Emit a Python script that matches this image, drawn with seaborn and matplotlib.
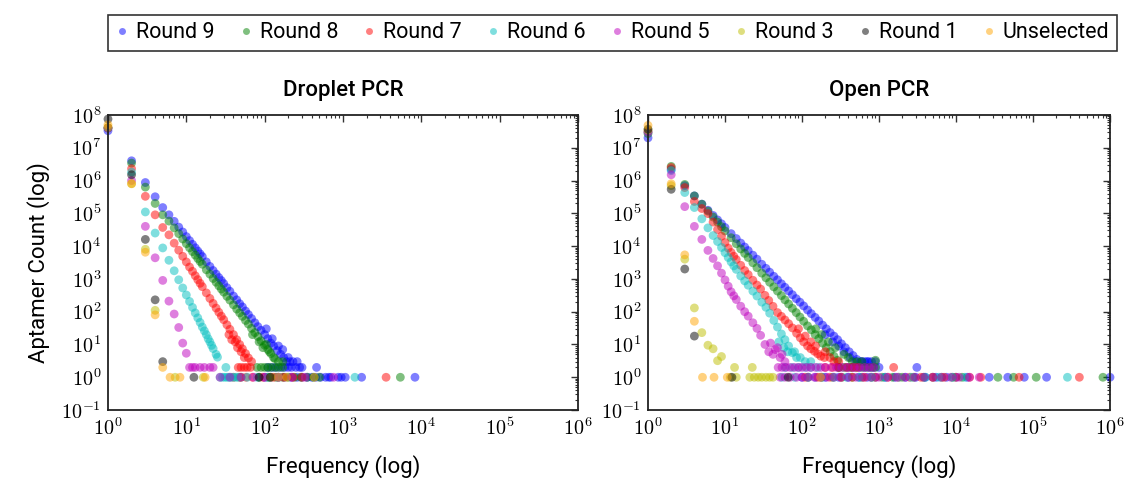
"""Aptamer frequency distributions per selection round, droplet vs open PCR."""
import matplotlib
matplotlib.use('Agg')
import matplotlib.pyplot as plt
import matplotlib.ticker as mticker
from matplotlib.lines import Line2D
import numpy as np
import pandas as pd
import seaborn as sns

rounds = ['Round 9', 'Round 8', 'Round 7', 'Round 6', 'Round 5', 'Round 3', 'Round 1', 'Unselected']
colors = ['blue', 'green', 'red', 'c', 'm', 'y', 'k', 'orange']
titles = ['Droplet PCR', 'Open PCR']

# ---- Droplet PCR: frequency -> aptamer count (twos/ones = frequencies seen with count 2 / 1)
drop_r9_freq = [1, 2, 3, 4, 5, 6, 7, 8, 9, 10, 11, 12, 13, 14, 15, 16, 18, 20, 22, 24, 26, 28, 30,
                33, 36, 40, 44, 48, 52, 57, 62, 68, 75, 82, 90, 100,
                105, 110, 120, 125, 130, 145, 150, 160, 170, 175, 190, 200, 210, 230, 260]
drop_r9_count = [3.3e7, 4e6, 8.7e5, 3.2e5, 1.5e5, 9e4, 5.7e4, 3.8e4, 2.7e4, 1.95e4, 1.47e4, 1.13e4, 8.9e3, 7.1e3, 5.8e3, 4.8e3,
                 3.3e3, 2.4e3, 1.8e3, 1.4e3, 1.1e3, 890, 720,
                 540, 420, 300, 230, 175, 140, 105, 82, 62, 46, 35, 27, 20,
                 30, 15, 11, 15, 9, 6.5, 9, 5, 7, 4, 3, 4, 3, 3, 3]
drop_r9_twos = [110, 125, 140, 160, 180, 200, 220, 250, 280, 300, 460]
drop_r9_ones = [100, 120, 150, 180, 220, 260, 300, 350, 400, 450, 520, 600, 660, 700, 870, 950, 1070, 1730, 8300]

drop_r8_freq = [1, 2, 3, 4, 5, 6, 7, 8, 9, 10, 11, 12, 13, 14, 15, 16, 18, 20, 22, 24, 26, 28, 30,
                33, 36, 40, 44, 48, 52, 57, 62, 68, 75, 82, 90, 100, 110, 120, 135,
                70, 85, 95, 105, 115, 130, 150, 170]
drop_r8_count = [4e7, 3.4e6, 6.3e5, 2e5, 9e4, 5.8e4, 3.6e4, 2.4e4, 1.65e4, 1.19e4, 8.9e3, 6.8e3, 5.3e3, 4.2e3, 3.4e3, 2.8e3,
                 1.9e3, 1.4e3, 1.03e3, 790, 615, 490, 395,
                 294, 225, 162, 120, 92, 72, 54, 42, 31, 23, 17.5, 13, 9.5, 7, 5.3, 3.7,
                 20, 12, 8, 10, 6, 4, 3, 3]
drop_r8_twos = [80, 90, 100, 110, 120, 135, 150, 170]
drop_r8_ones = [50, 85, 110, 140, 170, 200, 240, 290, 350, 420, 500, 5400]

drop_r7_freq = [1, 2, 3, 4, 5, 6, 7, 8, 9, 10, 11, 12, 13, 14, 15, 16, 18, 20, 22, 24, 26, 28, 30,
                33, 36, 40, 44, 48, 52, 57, 62, 68, 35, 38, 42, 45, 50, 55]
drop_r7_count = [4e7, 2.3e6, 3.3e5, 9e4, 3.7e4, 2.2e4, 1.23e4, 7.5e3, 4.9e3, 3.3e3, 2.3e3, 1.7e3, 1.25e3, 950, 735, 580,
                 375, 254, 179, 129, 96, 73, 57,
                 40, 29, 20, 14, 10, 7.4, 5.3, 3.9, 3, 20, 14, 12, 8, 6, 4]
drop_r7_twos = [46, 50, 55, 60, 66]
drop_r7_ones = [40, 48, 58, 70, 95, 130, 175, 230, 300, 3550]

drop_r6_freq = [1, 2, 3, 4, 5, 6, 7, 8, 9, 10, 11, 12, 13, 14, 15, 16, 17, 18, 19, 20, 21, 22, 24, 25]
drop_r6_count = [4e7, 1.8e6, 1.1e5, 2.5e4, 8.8e3, 3.7e3, 1.77e3, 940, 530, 323, 205, 135, 92, 65, 47, 34,
                 26, 20, 15, 12, 9.4, 7.5, 5, 4.1]
drop_r6_twos = [32]
drop_r6_ones = [27, 29, 31, 33, 35, 37, 40, 43, 46, 60, 80, 110, 150, 1420]

drop_r5_freq = [1, 2, 3, 4, 5, 6, 7, 8, 9, 10]
drop_r5_count = [4e7, 1e6, 4e4, 4.4e3, 900, 210, 85, 33, 11, 5.4]
drop_r5_twos = [11, 12, 13, 15, 17, 20, 22]
drop_r5_ones = [27, 36, 50, 72, 100, 150, 220, 330, 760]

drop_r3_freq = [1, 2, 3, 4]
drop_r3_count = [4.2e7, 8e5, 8e3, 110]
drop_r3_twos = []
drop_r3_ones = [7.2, 16.5, 120]

drop_r1_freq = [1, 2, 3, 4, 5]
drop_r1_count = [7.5e7, 1.5e6, 1.6e4, 230, 3]
drop_r1_twos = []
drop_r1_ones = [12.5, 85, 118]

drop_un_freq = [1, 2, 3, 4, 5]
drop_un_count = [5e7, 8e5, 6.5e3, 80, 2]
drop_un_twos = []
drop_un_ones = [6.2, 8.3, 17.4, 150, 190, 430]

# ---- Open PCR
open_r9_freq = [1, 2, 3, 4, 5, 6, 7, 8, 9, 10, 12, 14, 16, 18, 20,
                23, 26, 30, 34, 38, 43, 48, 54, 60, 67, 75, 84, 94, 105, 118, 132, 148, 165, 185, 207,
                232, 260, 290, 325, 365, 410, 460, 515, 580, 650, 730,
                200, 250, 300, 350, 420, 500, 600, 700, 800, 900]
open_r9_count = [2e7, 2.2e6, 7e5, 3.4e5, 1.9e5, 1.24e5, 8.6e4, 6.3e4, 4.8e4, 3.7e4, 2.4e4, 1.7e4, 1.24e4, 9.4e3, 7.3e3,
                 5.3e3, 4e3, 2.8e3, 2.1e3, 1.6e3, 1.2e3, 940, 710, 555, 430, 330, 250, 195, 150, 113, 87, 67, 52, 39, 30,
                 23, 18, 14, 10.5, 8, 6, 4.6, 3.5, 3, 3, 3,
                 20, 12, 9, 6, 4, 3, 3, 3, 3, 3]
open_r9_twos = [300, 380, 450, 550, 650, 750, 850, 1000, 3100]
open_r9_ones = [100, 150, 200, 300, 400, 550, 700, 900, 1200, 1600, 2200, 3000, 4000, 5500, 7500, 10000, 14000,
                27000, 47000, 77000, 1.5e5, 1e6]

open_r8_freq = [1, 2, 3, 4, 5, 6, 7, 8, 9, 10, 12, 14, 16, 18, 20,
                23, 26, 30, 34, 38, 43, 48, 54, 60, 67, 75, 84, 94, 105, 118, 132, 148, 165, 185, 207, 232, 260, 290,
                150, 180, 220, 270, 350, 400, 450, 520, 600, 900]
open_r8_count = [2.7e7, 2.7e6, 7.6e5, 3.4e5, 1.9e5, 1.17e5, 7.7e4, 5.4e4, 3.9e4, 2.9e4, 1.8e4, 1.18e4, 8.2e3, 6e3, 4.5e3,
                 3.1e3, 2.2e3, 1.5e3, 1.08e3, 790, 570, 425, 310, 230, 172, 127, 94, 69, 51, 37, 28, 20, 15, 11, 8, 6, 4.4, 3.3,
                 30, 20, 12, 8, 5, 4, 3, 3, 3, 3.3]
open_r8_twos = [300, 350, 420, 500, 600, 700, 800, 900]
open_r8_ones = [120, 180, 250, 330, 450, 600, 800, 1100, 1500, 2000, 2800, 3800, 5000, 6500, 9000, 12000,
                35000, 56000, 1.1e5, 8.1e5]

open_r7_freq = [1, 2, 3, 4, 5, 6, 7, 8, 9, 10, 11, 12, 13, 14,
                16, 18, 20, 23, 26, 29, 33, 37, 42, 48, 54, 60, 67, 75, 85, 95, 105, 118, 130, 145, 160, 175, 195,
                90, 110, 130, 150, 200, 230, 260, 300]
open_r7_count = [3.1e7, 2.5e6, 6.1e5, 2.3e5, 1.4e5, 9.8e4, 5.4e4, 3.2e4, 2e4, 1.28e4, 8.7e3, 6.4e3, 4.9e3, 3.9e3,
                 2.6e3, 1.8e3, 1.35e3, 910, 650, 490, 315, 220, 146, 94, 72, 56, 43, 32, 22, 16, 12, 9, 7.4, 6.2, 5.2, 4.4, 4,
                 30, 18, 12, 9, 6, 4, 3, 3]
open_r7_twos = [200, 250, 300, 380, 450, 520, 1550]
open_r7_ones = [110, 160, 230, 320, 450, 650, 900, 1300, 1800, 2500, 3500, 5000, 7000, 10000, 15000, 21000,
                66000, 4e5]

open_r6_freq = [1, 2, 3, 4, 5, 6, 7, 8, 9, 10, 11, 12, 13, 14,
                16, 18, 20, 23, 26, 30, 34, 38, 43, 48, 54, 60, 67, 75, 85,
                50, 58, 65, 80, 95, 110, 130]
open_r6_count = [3e7, 2e6, 4.3e5, 1.5e5, 6.8e4, 3.6e4, 2.1e4, 1.38e4, 9.1e3, 6.3e3, 4.5e3, 3.3e3, 2.5e3, 1.95e3,
                 1.23e3, 870, 640, 425, 300, 195, 136, 90, 54, 34, 21, 14, 9, 5.6, 4,
                 12, 8, 6, 6, 4, 3, 3]
open_r6_twos = [60, 75, 90, 110, 130, 160]
open_r6_ones = [55, 80, 120, 180, 260, 380, 550, 800, 1200, 1800, 2600, 4000, 6000, 9000, 13000, 2.8e5]

open_r5_freq = [1, 2, 3, 4, 5, 6, 7, 8, 9, 10, 11, 12, 13, 14, 16, 18, 20, 23, 26, 29, 33, 37,
                39, 42, 45, 48, 52, 55, 60]
open_r5_count = [3e7, 1.5e6, 1.6e5, 4e4, 1.6e4, 7.4e3, 4.2e3, 2.5e3, 1.5e3, 930, 600, 405, 305, 235, 147, 100, 73, 46, 31, 19, 10, 6,
                 11, 5, 7, 8, 4, 5, 3]
open_r5_twos = [49, 55, 62, 70, 80, 90, 100, 115, 130, 150, 175, 200, 240, 280, 330, 400, 480, 560, 650, 750, 850]
open_r5_ones = [52, 60, 70, 85, 100, 120, 145, 175, 210, 260, 320, 400, 500, 620, 780, 1000, 1300, 1700, 2200,
                2900, 3800, 5000, 6500, 8500, 11000, 15000, 20000]

open_r3_freq = [1, 2, 3, 4, 5, 6, 7, 8, 9]
open_r3_count = [3.5e7, 7e5, 4e3, 130, 23, 9.5, 7.4, 3.2, 4.3]
open_r3_twos = [13.3, 22.6]
open_r3_ones = [11.7, 14, 21, 24, 27, 30, 34, 38, 42]

open_r1_freq = [1, 2, 3, 4]
open_r1_count = [3.7e7, 5.4e5, 2e3, 18]
open_r1_twos = []
open_r1_ones = [12.3, 66]

open_un_freq = [1, 2, 3, 4]
open_un_count = [4.8e7, 8e5, 5.4e3, 51]
open_un_twos = []
open_un_ones = [5.1, 7.2, 10.7, 174]

droplet = [
    (drop_r9_freq, drop_r9_count, drop_r9_twos, drop_r9_ones),
    (drop_r8_freq, drop_r8_count, drop_r8_twos, drop_r8_ones),
    (drop_r7_freq, drop_r7_count, drop_r7_twos, drop_r7_ones),
    (drop_r6_freq, drop_r6_count, drop_r6_twos, drop_r6_ones),
    (drop_r5_freq, drop_r5_count, drop_r5_twos, drop_r5_ones),
    (drop_r3_freq, drop_r3_count, drop_r3_twos, drop_r3_ones),
    (drop_r1_freq, drop_r1_count, drop_r1_twos, drop_r1_ones),
    (drop_un_freq, drop_un_count, drop_un_twos, drop_un_ones),
]
open_pcr = [
    (open_r9_freq, open_r9_count, open_r9_twos, open_r9_ones),
    (open_r8_freq, open_r8_count, open_r8_twos, open_r8_ones),
    (open_r7_freq, open_r7_count, open_r7_twos, open_r7_ones),
    (open_r6_freq, open_r6_count, open_r6_twos, open_r6_ones),
    (open_r5_freq, open_r5_count, open_r5_twos, open_r5_ones),
    (open_r3_freq, open_r3_count, open_r3_twos, open_r3_ones),
    (open_r1_freq, open_r1_count, open_r1_twos, open_r1_ones),
    (open_un_freq, open_un_count, open_un_twos, open_un_ones),
]


def to_frame(series):
    # long format, rounds kept in legend order so later rounds draw on top
    rows = []
    for name, (freq, count, twos, ones) in zip(rounds, series):
        rows += [(name, f, c) for f, c in zip(freq, count)]
        rows += [(name, f, 2) for f in twos]
        rows += [(name, f, 1) for f in ones]
    return pd.DataFrame(rows, columns=['round', 'freq', 'count'])


sns.set_style('white')
plt.rcParams['font.family'] = ['Roboto', 'DejaVu Sans']
plt.rcParams['mathtext.fontset'] = 'cm'
plt.rcParams['text.color'] = 'black'
plt.rcParams['axes.labelcolor'] = 'black'

palette = dict(zip(rounds, colors))
fig = plt.figure(figsize=(11.26, 4.83), dpi=100)
axes = [fig.add_axes([0.0959, 0.151, 0.4174, 0.611]),
        fig.add_axes([0.5755, 0.151, 0.4103, 0.611])]

decade_fmt = mticker.FuncFormatter(lambda v, p: r'$10^{%d}$' % int(round(np.log10(v))))

for ax, series, title in zip(axes, [droplet, open_pcr], titles):
    df = to_frame(series)
    sns.scatterplot(data=df, x='freq', y='count', hue='round', hue_order=rounds, palette=palette,
                    alpha=0.5, s=40, linewidth=0, legend=False, ax=ax)
    ax.collections[-1].set_clip_on(False)
    ax.set_xscale('log')
    ax.set_yscale('log')
    ax.set_xlim(1, 1e6)
    ax.set_ylim(1e-1, 1e8)
    ax.xaxis.set_major_locator(mticker.LogLocator(base=10, numticks=20))
    ax.yaxis.set_major_locator(mticker.LogLocator(base=10, numticks=20))
    ax.xaxis.set_minor_locator(mticker.LogLocator(base=10, subs=np.arange(2, 10), numticks=20))
    ax.yaxis.set_minor_locator(mticker.LogLocator(base=10, subs=np.arange(2, 10), numticks=20))
    ax.xaxis.set_major_formatter(decade_fmt)
    ax.yaxis.set_major_formatter(decade_fmt)
    ax.xaxis.set_minor_formatter(mticker.NullFormatter())
    ax.yaxis.set_minor_formatter(mticker.NullFormatter())
    ax.tick_params(which='both', direction='in', top=True, right=True, colors='#333333')
    ax.tick_params(which='major', length=5, width=1, labelsize=14.5, pad=5, labelcolor='black')
    ax.tick_params(which='minor', length=2.5, width=0.8)
    for sp in ax.spines.values():
        sp.set_color('#222222')
        sp.set_linewidth(1.3)
    ax.set_title(title, fontsize=16, fontweight='medium', pad=14, color='black')
    ax.set_xlabel('Frequency (log)', fontsize=16, labelpad=12)
    ax.set_ylabel('')

axes[0].set_ylabel('Aptamer Count (log)', fontsize=16, labelpad=8)

handles = [Line2D([], [], marker='o', linestyle='', color=c, alpha=0.5, markersize=5, markeredgewidth=0)
           for c in colors]
leg = fig.legend(handles, rounds, loc='center', bbox_to_anchor=(0.0959, 0.892, 0.896, 0.081), mode='expand',
                 ncol=8, fontsize=15.5, frameon=True, fancybox=False, edgecolor='black', handlelength=0.6,
                 handletextpad=0.35, borderpad=0.35, borderaxespad=0)
leg.get_frame().set_linewidth(1.2)
for t in leg.get_texts():
    t.set_color('black')

fig.savefig('out.png', dpi=100)
